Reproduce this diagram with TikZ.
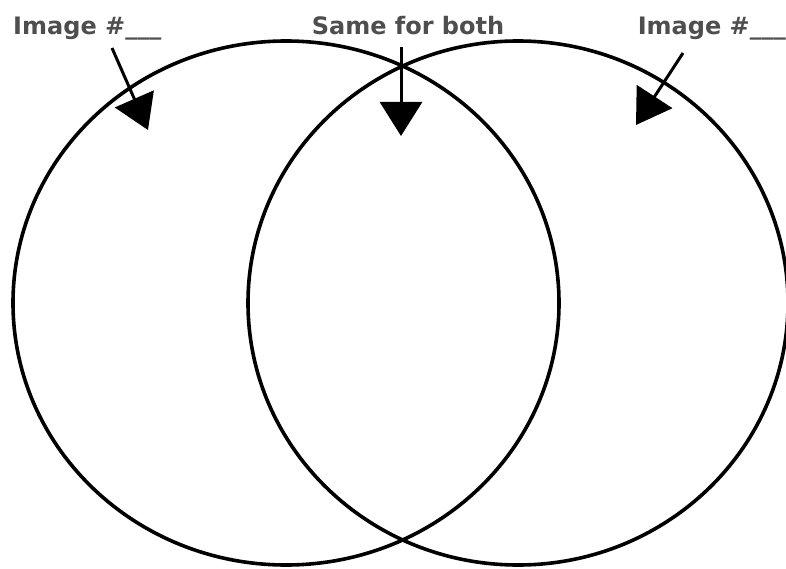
\documentclass[tikz,border=0pt]{standalone}
\usepackage{fontspec}
\setmainfont{DejaVu Sans}
\usepackage{tikz}
\usetikzlibrary{arrows.meta,shapes.geometric}
\definecolor{ink}{HTML}{000000}
\definecolor{labelgray}{HTML}{4E4E4E}
\tikzset{
  setring/.style={draw=ink, line width=3.6pt, ellipse, inner sep=0pt},
  toplabel/.style={font=\bfseries\fontsize{24}{28}\selectfont, text=labelgray, inner sep=0pt},
  pointer/.style={-{Triangle[length=34pt, width=42pt]}, line width=3pt, draw=ink}
}
\begin{document}
\begin{tikzpicture}[x=1pt, y=-1pt]
  \useasboundingbox (0,0) rectangle (786,569);

  \node[setring, minimum width=546pt, minimum height=524pt] (leftset) at (286,303) {};
  \node[setring, minimum width=540pt, minimum height=524pt] (rightset) at (518,303) {};

  \node[toplabel, anchor=base west] (leftlbl) at (13,35) {Image \#\_\_\_};
  \node[toplabel, anchor=base] (bothlbl) at (408,35) {Same for both};
  \node[toplabel, anchor=base east] (rightlbl) at (786,35) {Image \#\_\_\_};

  % arrow ends
  \coordinate (leftstart) at (112,48);
  \coordinate (lefttip) at (148,130);
  \coordinate (bothstart) at (401,47);
  \coordinate (bothtip) at (401,136);
  \coordinate (rightstart) at (683,53);
  \coordinate (righttip) at (636,125);

  \draw[pointer] (leftstart) -- (lefttip);
  \draw[pointer] (bothstart) -- (bothtip);
  \draw[pointer] (rightstart) -- (righttip);
\end{tikzpicture}
\end{document}
